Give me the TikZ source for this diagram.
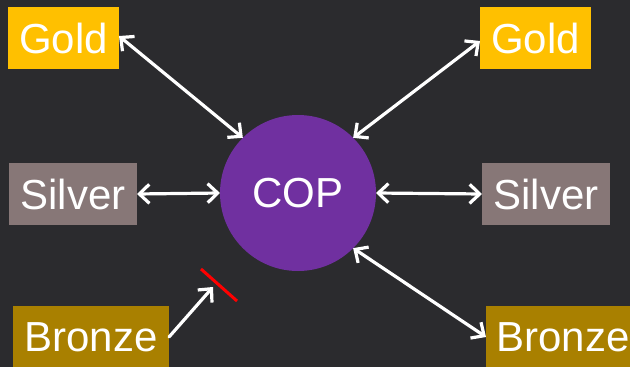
\documentclass[tikz,border=0pt]{standalone}
\usepackage{fontspec}
\setmainfont{Liberation Sans}
\usetikzlibrary{arrows.meta}
\definecolor{bg}{HTML}{2B2B2E}
\definecolor{goldc}{HTML}{FFC000}
\definecolor{silverc}{HTML}{877777}
\definecolor{bronzec}{HTML}{A98000}
\definecolor{copc}{HTML}{7030A0}
\definecolor{redc}{HTML}{FF0000}
\begin{document}
\begin{tikzpicture}[x=1pt,y=-1pt,
  medal/.style={inner sep=0pt, outer sep=0pt, text=white, font=\fontsize{42}{42}\selectfont},
  conn/.style={draw=white, line width=3.2pt, line cap=round, {Straight Barb[length=10pt,width=19pt,line width=3.2pt]}-{Straight Barb[length=10pt,width=19pt,line width=3.2pt]}},
  oneway/.style={draw=white, line width=3.2pt, line cap=round, -{Straight Barb[length=10pt,width=19pt,line width=3.2pt]}}]
\fill[bg] (0,0) rectangle (630,367);
\useasboundingbox (0,0) rectangle (630,367);
\node[medal, fill=goldc, minimum width=111pt, minimum height=62pt] (gl) at (63.5,38) {Gold};
\node[medal, fill=goldc, minimum width=111pt, minimum height=62pt] (gr) at (535.5,38) {Gold};
\node[medal, fill=silverc, minimum width=128pt, minimum height=62pt] (sl) at (73,194) {Silver};
\node[medal, fill=silverc, minimum width=128pt, minimum height=62pt] (sr) at (546,194) {Silver};
\node[medal, fill=bronzec, minimum width=156pt, minimum height=62pt] (bl) at (91,337) {Bronze};
\node[medal, fill=bronzec, minimum width=156pt, minimum height=62pt, anchor=west] (br) at (486,337) {\hspace*{6pt}Bronze\hspace*{8pt}};
\node[circle, fill=copc, minimum size=156pt, inner sep=0pt, outer sep=0pt, text=white, font=\fontsize{42}{42}\selectfont] (cop) at (298,193) {COP};
\coordinate (btip) at (213,287);
\coordinate (r1) at (201,269);
\coordinate (r2) at (237,301);
\draw[conn] ([yshift=2pt]gl.east) -- (cop.135);
\draw[conn] (cop.45) -- ([yshift=-3pt]gr.west);
\draw[conn] (sl.east) -- (cop.west);
\draw[conn] (cop.east) -- (sr.west);
\draw[conn] (cop.-45) -- (br.west);
\draw[oneway] (bl.east) -- (btip);
\draw[redc, line width=3pt] (r1) -- (r2);
\end{tikzpicture}
\end{document}
